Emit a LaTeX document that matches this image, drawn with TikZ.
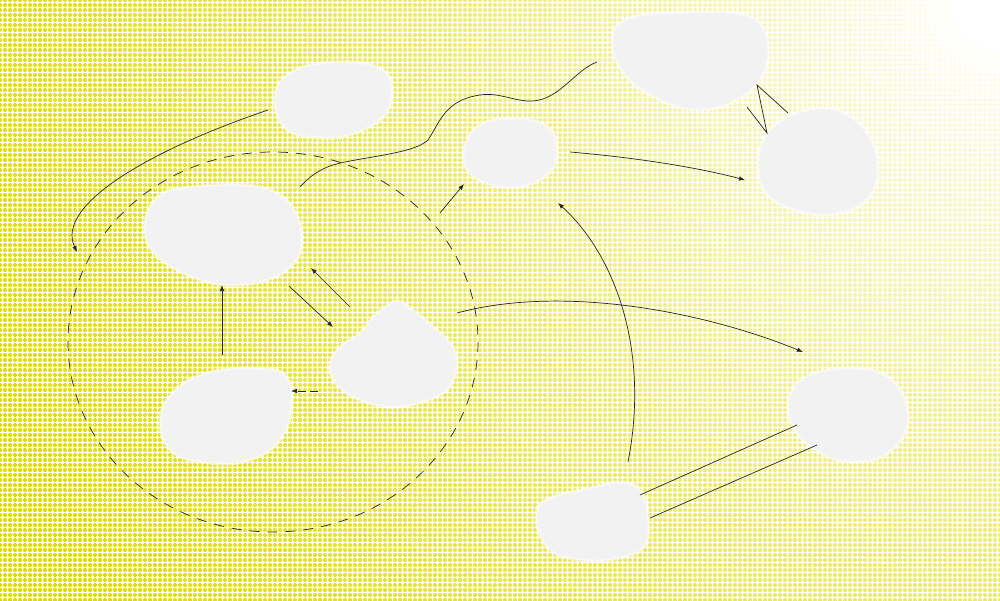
\documentclass[tikz,border=0pt]{standalone}
\usetikzlibrary{arrows.meta,patterns}
\definecolor{blobc}{RGB}{242,242,242}
\definecolor{dotc}{RGB}{224,219,0}
\pgfdeclarepatternformonly{hdots}{\pgfqpoint{-2.5pt}{-2.5pt}}{\pgfqpoint{2.5pt}{2.5pt}}{\pgfqpoint{5pt}{5pt}}{\pgfpathcircle{\pgfpointorigin}{2.1pt}\pgfusepath{fill}}
\begin{document}
\begin{tikzpicture}[x=1pt,y=-1pt,
  conn/.style={line width=0.7pt, draw=black!85},
  arr/.style={conn, -{Latex[length=6pt,width=4.5pt]}},
  blob/.style={fill=blobc, draw=white, line width=3pt, draw opacity=0.5},
  dashline/.style={conn, dash pattern=on 10pt off 8pt}]
\useasboundingbox (0,0) rectangle (1000,600);
% halftone background
\begin{scope}
  \clip (0,0) rectangle (1000,600);
  \fill[white] (0,0) rectangle (1000,600);
  \coordinate (corner) at (1000,0);
  \foreach \k in {47,46,...,1}{%
    \pgfmathsetmacro\rad{25*(\k+1)}%
    \pgfmathtruncatemacro\fr{100*(max(0.001,min(1,(25*\k+12.5-40)/1050)))^0.85}%
    \fill[white] (corner) circle[radius=\rad pt];
    \fill[pattern=hdots, pattern color={dotc!\fr!white}] (corner) circle[radius=\rad pt];
  }
  \fill[white] (corner) circle[radius=25pt];
\end{scope}

% blobs
\path[blob] plot[smooth cycle, tension=0.7] coordinates {(275,95) (295,70) (340,62) (380,68) (392,88) (385,115) (355,133) (320,138) (285,128)};
\path[blob] plot[smooth cycle, tension=0.7] coordinates {(612,40) (630,18) (690,12) (745,15) (766,35) (765,70) (740,98) (700,110) (660,100) (625,75)};
\path[blob] plot[smooth cycle, tension=0.7] coordinates {(465,145) (480,125) (510,118) (545,125) (557,148) (550,172) (520,187) (485,183) (466,168)};
\path[blob] plot[smooth cycle, tension=0.7] coordinates {(758,160) (770,130) (800,112) (835,110) (865,130) (878,165) (868,198) (835,214) (795,210) (765,192)};
\path[blob] plot[smooth cycle, tension=0.7] coordinates {(145,220) (160,195) (190,187) (247,185) (280,195) (297,215) (302,242) (295,262) (273,278) (240,285) (207,282) (173,268) (150,248)};
\path[blob] plot[smooth cycle, tension=0.6] coordinates {(393,302) (403,303) (417,313) (437,330) (453,347) (457,367) (447,390) (420,403) (387,407) (353,397) (333,380) (330,363) (340,347) (360,333) (373,317)};
\path[blob] plot[smooth cycle, tension=0.7] coordinates {(160,420) (175,390) (210,372) (255,368) (285,375) (292,405) (280,440) (250,460) (210,463) (172,452)};
\path[blob] plot[smooth cycle, tension=0.7] coordinates {(790,395) (810,375) (850,368) (885,375) (905,400) (906,430) (885,455) (850,462) (815,450) (792,425)};
\path[blob] plot[smooth cycle, tension=0.7] coordinates {(536,515) (550,498) (590,488) (620,482) (640,490) (648,515) (645,545) (620,558) (580,560) (548,548)};

% dashed ring
\coordinate (ring) at (273,342);
\draw[dashline] (ring) ellipse[x radius=205, y radius=190];

% connector end points
\coordinate (a1) at (268,110);  \coordinate (a2) at (77,252);
\coordinate (w1) at (300,187);  \coordinate (w2) at (597,62);
\coordinate (r1) at (440,213);  \coordinate (r2) at (464,184);
\coordinate (c1) at (570,152);  \coordinate (c2) at (745,180);
\coordinate (i1) at (628,462);  \coordinate (i2) at (558,203);
\coordinate (f1) at (457,313);  \coordinate (f2) at (803,352);
\coordinate (p1) at (640,495);  \coordinate (p2) at (797,425);
\coordinate (q1) at (650,518);  \coordinate (q2) at (817,445);
\coordinate (z1) at (747,107);  \coordinate (z2) at (767,133);
\coordinate (z3) at (757,85);   \coordinate (z4) at (788,113);
\coordinate (g1) at (222,355);  \coordinate (g2) at (222,285);
\coordinate (m1) at (350,307);  \coordinate (m2) at (311,268);
\coordinate (n1) at (289,286);  \coordinate (n2) at (333,327);
\coordinate (d1) at (318,391);  \coordinate (d2) at (291,391);

\draw[arr] (a1) .. controls (150,150) and (55,205) .. (a2);
\draw[conn] (w1) .. controls (315,170) and (330,165) .. (345,162)
  .. controls (380,155) and (415,152) .. (428,140)
  .. controls (440,122) and (445,100) .. (480,95)
  .. controls (500,92) and (515,102) .. (533,101)
  .. controls (560,99) and (575,70) .. (w2);
\draw[arr] (r1) -- (r2);
\draw[arr] (c1) .. controls (640,158) and (700,168) .. (c2);
\draw[arr] (i1) .. controls (650,350) and (615,255) .. (i2);
\draw[arr] (f1) .. controls (560,285) and (700,310) .. (f2);
\draw[conn] (p1) -- (p2);
\draw[conn] (q1) -- (q2);
\draw[conn] (z1) -- (z2) -- (z3) -- (z4);
\draw[arr] (g1) -- (g2);
\draw[arr] (m1) -- (m2);
\draw[arr] (n1) -- (n2);
\draw[arr, dash pattern=on 8pt off 4pt] (d1) -- (d2);
\end{tikzpicture}
\end{document}
